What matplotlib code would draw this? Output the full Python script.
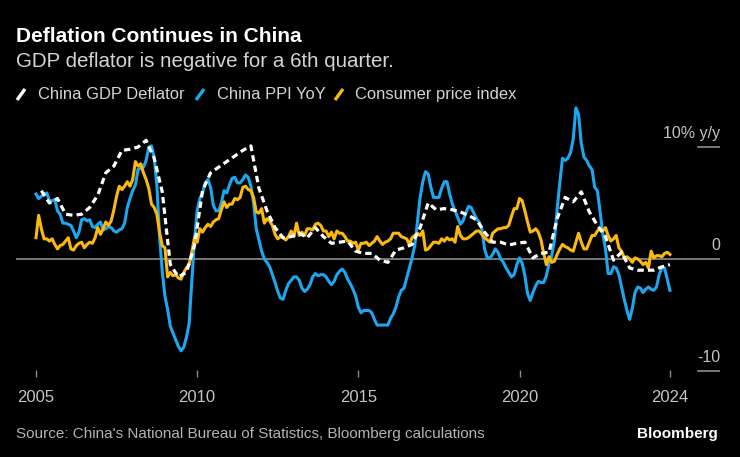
import matplotlib.pyplot as plt
from matplotlib.lines import Line2D
import numpy as np

plt.rcParams['font.family'] = ['Liberation Sans', 'DejaVu Sans']

# consumer price index, % y/y, monthly Jan 2005 - Sep 2024
cpi = [1.9, 3.9, 2.7, 1.8, 1.8, 1.6, 1.8, 1.3, 0.9, 1.2, 1.3, 1.6,
       1.9, 0.9, 0.8, 1.2, 1.4, 1.5, 1.0, 1.3, 1.5, 1.4, 1.9, 2.8,
       2.2, 2.7, 3.3, 3.0, 3.4, 4.4, 5.6, 6.5, 6.2, 6.5, 6.9, 6.5,
       7.1, 8.7, 8.3, 8.5, 7.7, 7.1, 6.3, 4.9, 4.6, 4.0, 2.4, 1.2,
       1.0, -1.6, -1.2, -1.5, -1.4, -1.7, -1.8, -1.2, -0.8, -0.5, 0.6, 1.9,
       1.5, 2.7, 2.4, 2.8, 3.1, 2.9, 3.3, 3.5, 3.6, 4.4, 5.1, 4.6,
       4.9, 4.9, 5.4, 5.3, 5.5, 6.4, 6.5, 6.2, 6.1, 5.5, 4.2, 4.1,
       4.5, 3.2, 3.6, 3.4, 3.0, 2.2, 1.8, 2.0, 1.9, 1.7, 2.0, 2.5,
       2.0, 3.2, 2.1, 2.4, 2.1, 2.7, 2.7, 2.6, 3.1, 3.2, 3.0, 2.5,
       2.5, 2.0, 2.4, 1.8, 2.5, 2.3, 2.3, 2.0, 1.6, 1.6, 1.4, 1.5,
       0.8, 1.4, 1.4, 1.5, 1.2, 1.4, 1.6, 2.0, 1.6, 1.3, 1.5, 1.6,
       1.8, 2.3, 2.3, 2.3, 2.0, 1.9, 1.8, 1.3, 1.9, 2.1, 2.3, 2.1,
       2.5, 0.8, 0.9, 1.2, 1.5, 1.5, 1.4, 1.8, 1.6, 1.9, 1.7, 1.8,
       1.5, 2.9, 2.1, 1.8, 1.8, 1.9, 2.1, 2.3, 2.5, 2.5, 2.2, 1.9,
       1.7, 1.5, 2.3, 2.5, 2.7, 2.7, 2.8, 2.8, 3.0, 3.8, 4.5, 4.5,
       5.4, 5.2, 4.3, 3.3, 2.4, 2.5, 2.7, 2.4, 1.7, 0.5, -0.5, 0.2,
       -0.3, -0.2, 0.4, 0.9, 1.3, 1.1, 1.0, 0.8, 0.7, 1.5, 2.3, 1.5,
       0.9, 0.9, 1.5, 2.1, 2.1, 2.5, 2.7, 2.5, 2.8, 2.1, 1.6, 1.8,
       2.1, 1.0, 0.7, 0.1, 0.2, 0.0, -0.3, 0.1, 0.0, -0.2, -0.5, -0.3,
       -0.8, 0.7, 0.1, 0.3, 0.3, 0.2, 0.5, 0.6, 0.4]

# China PPI, % y/y, monthly Jan 2005 - Sep 2024
ppi = [5.8, 5.4, 5.6, 5.8, 5.9, 5.2, 5.2, 5.3, 4.3, 4.0, 3.2, 3.2,
       3.1, 3.0, 2.5, 1.9, 2.4, 3.5, 3.6, 3.4, 3.5, 2.9, 2.8, 3.1,
       3.3, 2.6, 2.7, 2.9, 2.8, 2.5, 2.4, 2.6, 2.7, 3.2, 4.6, 5.4,
       6.1, 6.6, 8.0, 8.1, 8.2, 8.8, 10.0, 10.1, 9.1, 6.6, 2.0, -1.1,
       -3.3, -4.5, -6.0, -6.6, -7.2, -7.8, -8.2, -7.9, -7.0, -5.8, -2.1, 1.7,
       4.3, 5.4, 5.9, 6.8, 7.1, 6.4, 4.8, 4.3, 4.3, 5.0, 6.1, 5.9,
       6.6, 7.2, 7.3, 6.8, 6.8, 7.1, 7.5, 7.3, 6.5, 5.0, 2.7, 1.7,
       0.7, 0.0, -0.3, -0.7, -1.4, -2.1, -2.9, -3.5, -3.6, -2.8, -2.2, -1.9,
       -1.6, -1.6, -1.9, -2.6, -2.9, -2.7, -2.3, -1.6, -1.3, -1.5, -1.4, -1.4,
       -1.6, -2.0, -2.3, -2.0, -1.4, -1.1, -0.9, -1.2, -1.8, -2.2, -2.7, -3.3,
       -4.3, -4.8, -4.6, -4.6, -4.6, -4.8, -5.4, -5.9, -5.9, -5.9, -5.9, -5.9,
       -5.3, -4.9, -4.3, -3.4, -2.8, -2.6, -1.7, -0.8, 0.1, 1.2, 3.3, 5.5,
       6.9, 7.8, 7.6, 6.4, 5.5, 5.5, 5.5, 6.3, 6.9, 6.9, 5.8, 4.9,
       4.3, 3.7, 3.1, 3.4, 4.1, 4.7, 4.6, 4.1, 3.6, 3.3, 2.7, 0.9,
       0.1, 0.1, 0.4, 0.9, 0.6, 0.0, -0.3, -0.8, -1.2, -1.6, -1.4, -0.5,
       0.1, -0.4, -1.5, -3.1, -3.7, -3.0, -2.4, -2.0, -2.1, -2.1, -1.5, -0.4,
       0.3, 1.7, 4.4, 6.8, 9.0, 8.8, 9.0, 9.5, 10.7, 13.5, 12.9, 10.3,
       9.1, 8.8, 8.3, 8.0, 6.4, 6.1, 4.2, 2.3, 0.9, -1.3, -1.3, -0.7,
       -0.8, -1.4, -2.5, -3.6, -4.6, -5.4, -4.4, -3.0, -2.5, -2.6, -3.0, -2.7,
       -2.5, -2.7, -2.8, -2.5, -1.4, -0.8, -0.8, -1.8, -2.8]

# GDP deflator, % y/y, quarterly 2005 Q1 - 2024 Q3
gdp_defl = [6.1, 5.0, 5.4, 4.0,
            3.9, 4.0, 4.6, 5.7,
            7.7, 8.3, 9.7, 9.8,
            10.0, 10.6, 9.0, 6.0,
            -0.5, -1.6, -1.2, 1.2,
            6.1, 7.7, 8.2, 8.7,
            9.2, 9.7, 10.1, 6.3,
            4.3, 2.8, 1.9, 2.0,
            2.3, 1.9, 2.8, 2.0,
            1.4, 1.5, 1.6, 0.7,
            0.5, 0.5, -0.1, -0.3,
            0.8, 1.0, 1.3, 2.8,
            5.0, 4.4, 4.5, 4.4,
            4.2, 3.9, 3.5, 2.4,
            1.5, 1.5, 1.25, 1.4,
            1.5, 0.1, 0.5, 0.6,
            3.6, 5.5, 5.1, 6.0,
            4.2, 3.0, 2.0, -0.1,
            0.6, -0.8, -1.0, -1.0,
            -1.0, -0.7, -0.5]

x_tick_labels = ['2005', '2010', '2015', '2020', '2024']
y_ticks = [10, 0, -10]
y_tick_labels = ['10% y/y', '0', '-10']

months = 2005 + np.arange(len(cpi)) / 12
quarters = 2005 + (3 * np.arange(len(gdp_defl)) + 2) / 12
x_ticks = [2005, 2010, 2015, 2020, months[-1]]

W, H = 740, 457
fig = plt.figure(figsize=(W / 100, H / 100), dpi=100, facecolor='black')
ax = fig.add_axes([16 / W, 1 - 377 / H, 704 / W, 277 / H])
ax.set_facecolor('black')
for s in ax.spines.values():
    s.set_visible(False)

blue = '#1ba8ef'
yellow = '#fbb90f'

ax.axhline(0, color='#8c8c8c', lw=1.2, zorder=1)
for v in [10, -10]:
    ax.axhline(v, xmin=1 - 22 / 704, xmax=1, color='#9a9a9a', lw=1.1)

ax.plot(months, ppi, color=blue, lw=2.2, zorder=3)
ax.plot(months, cpi, color=yellow, lw=2.2, zorder=4)
ax.plot(quarters, gdp_defl, color='white', lw=2.3, dashes=(2.0, 1.3), zorder=5)

ax.set_xlim(2004.38, 2026.22)
ax.set_ylim(-10.54, 14.2)
ax.set_yticks([])
ax.set_xticks(x_ticks, x_tick_labels)
ax.tick_params(axis='x', direction='in', length=5, width=1, color='#8a8a8a',
               labelcolor='#c4c4c4', labelsize=12, pad=9)

for v, lab in zip(y_ticks, y_tick_labels):
    ax.annotate(lab, xy=(1, v), xycoords=('axes fraction', 'data'),
                xytext=(0, 6.5), textcoords='offset points',
                ha='right', va='baseline', color='#c4c4c4', fontsize=11.5)

# title block
fig.text(16 / W, 1 - 42 / H, 'Deflation Continues in China', color='white',
         fontsize=15, fontweight='bold', va='baseline')
fig.text(16 / W, 1 - 67 / H, 'GDP deflator is negative for a 6th quarter.',
         color='#d4d4d4', fontsize=14.8, va='baseline')

# legend with slash markers
legend_items = [('China GDP Deflator', 'white', 17, 38),
                ('China PPI YoY', blue, 196, 217),
                ('Consumer price index', yellow, 335, 355)]
for lab, c, mx, tx in legend_items:
    fig.add_artist(Line2D([mx / W, (mx + 8) / W], [1 - 100 / H, 1 - 89 / H],
                          transform=fig.transFigure, color=c, lw=2.4,
                          solid_capstyle='butt'))
    fig.text(tx / W, 1 - 99 / H, lab, color='#d4d4d4', fontsize=11.9,
             va='baseline')

fig.text(16 / W, 1 - 438 / H,
         "Source: China's National Bureau of Statistics, Bloomberg calculations",
         color='#b4b4b4', fontsize=11, va='baseline')
fig.text(718 / W, 1 - 438 / H, 'Bloomberg', color='white', fontsize=11,
         fontweight='bold', ha='right', va='baseline')

fig.savefig('out.png', dpi=100, facecolor='black')
